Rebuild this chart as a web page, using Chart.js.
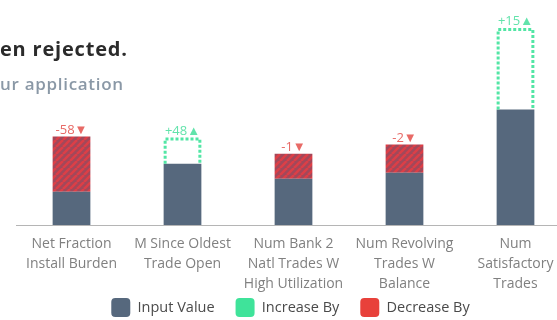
<!DOCTYPE html>
<html>
<head>
<meta charset="utf-8">
<script src="https://cdn.jsdelivr.net/npm/chart.js@4.4.0/dist/chart.umd.min.js"></script>
<style>
  html, body { margin: 0; padding: 0; background: #fff; width: 557px; height: 320px; overflow: hidden; }
  #wrap { position: absolute; left: 0; top: 0; width: 580px; height: 320px; }
  #title { position: absolute; left: 0; top: 37px; font-family: "Open Sans", sans-serif; font-weight: 700; font-size: 20px; line-height: 24px; color: #2b2b2b; white-space: nowrap; letter-spacing: 0.8px; }
  #subtitle { position: absolute; left: 0; top: 73px; font-family: "Open Sans", sans-serif; font-weight: 600; font-size: 17px; line-height: 22px; color: #8a98a6; white-space: nowrap; letter-spacing: 0.7px; }
</style>
</head>
<body>
<div id="wrap">
  <canvas id="c" width="580" height="320"></canvas>
</div>
<div id="title">en rejected.</div>
<div id="subtitle">ur application</div>
<script>
const categories = [
  ["Net Fraction", "Install Burden"],
  ["M Since Oldest", "Trade Open"],
  ["Num Bank 2", "Natl Trades W", "High Utilization"],
  ["Num Revolving", "Trades W", "Balance"],
  ["Num", "Satisfactory", "Trades"]
];
const inputValues = [16.5, 30.5, 23, 26, 57.5];
const increaseBy = [null, 13, null, null, 40.5];
const decreaseBy = [27.5, null, 12.5, 14, null];
const changeLabels = ["-58", "+48", "-1", "-2", "+15"];
const seriesNames = ["Input Value", "Increase By", "Decrease By"];
const seriesColors = ["#56687d", "#3fe39a", "#e8413b"];

const FONT = '"Open Sans", sans-serif';

function makeHatch() {
  const s = 7;
  const p = document.createElement('canvas');
  p.width = s; p.height = s;
  const g = p.getContext('2d');
  g.fillStyle = '#a2485a';
  g.fillRect(0, 0, s, s);
  g.strokeStyle = '#dc3f47';
  g.lineWidth = 2.6;
  g.beginPath();
  for (let k = -1; k <= 1; k++) {
    g.moveTo(k * s, s);
    g.lineTo(k * s + s, 0);
  }
  g.stroke();
  return g.createPattern(p, 'repeat');
}
const hatch = makeHatch();

const dottedOutline = {
  id: 'dottedOutline',
  afterDatasetsDraw(chart) {
    const ctx = chart.ctx;
    const meta = chart.getDatasetMeta(1);
    ctx.save();
    ctx.strokeStyle = '#52e6a5';
    ctx.lineWidth = 3;
    ctx.setLineDash([3, 2]);
    meta.data.forEach((bar, i) => {
      if (increaseBy[i] == null) return;
      const p = bar.getProps(['x', 'y', 'base', 'width'], true);
      const l = p.x - p.width / 2 + 1.5, r = p.x + p.width / 2 - 1.5;
      const t = p.y + 1.5, b = p.base;
      ctx.beginPath();
      ctx.moveTo(l, b); ctx.lineTo(l, t); ctx.lineTo(r, t); ctx.lineTo(r, b);
      ctx.stroke();
    });
    ctx.restore();
  }
};

const changeText = {
  id: 'changeText',
  afterDatasetsDraw(chart) {
    const ctx = chart.ctx;
    ctx.save();
    ctx.font = '13px ' + FONT;
    ctx.textAlign = 'center';
    ctx.textBaseline = 'alphabetic';
    changeLabels.forEach((lab, i) => {
      const up = increaseBy[i] != null;
      const meta = chart.getDatasetMeta(up ? 1 : 2);
      const bar = meta.data[i];
      const p = bar.getProps(['x', 'y'], true);
      ctx.fillStyle = up ? '#62e3ab' : '#e86a66';
      ctx.fillText(lab + (up ? '\u25B2' : '\u25BC'), p.x, p.y - 3);
    });
    ctx.restore();
  }
};

// tighten the legend's vertical padding while keeping horizontal spacing
const LEGEND_H = 17, LEGEND_SHIFT_Y = -26, LEGEND_SHIFT_X = -3;
const legendTighten = {
  id: 'legendTighten',
  beforeLayout(chart) {
    const lg = chart.legend;
    if (lg && !lg._tight) {
      const f = lg.fit;
      lg.fit = function () { f.call(this); this.height = LEGEND_H; };
      lg.draw = function () {
        if (!this.options.display) return;
        const c = this.ctx; c.save(); c.translate(LEGEND_SHIFT_X, LEGEND_SHIFT_Y); this._draw(); c.restore();
      };
      lg._tight = true;
    }
  }
};

new Chart(document.getElementById('c'), {
  type: 'bar',
  data: {
    labels: categories,
    datasets: [
      { label: seriesNames[0], data: inputValues, backgroundColor: seriesColors[0], stack: 's', categoryPercentage: 1, barPercentage: 0.34 },
      { label: seriesNames[1], data: increaseBy, backgroundColor: 'rgba(255,255,255,0)', stack: 's', categoryPercentage: 1, barPercentage: 0.34 },
      { label: seriesNames[2], data: decreaseBy, backgroundColor: hatch, stack: 's', categoryPercentage: 1, barPercentage: 0.34 }
    ]
  },
  options: {
    responsive: false,
    animation: false,
    layout: { padding: { left: 16, right: 9, top: 24, bottom: 0 } },
    plugins: {
      tooltip: { enabled: false },
      legend: {
        position: 'bottom',
        labels: {
          font: { family: FONT, size: 14.5 },
          color: '#4a4a4a',
          boxWidth: 19,
          boxHeight: 19,
          padding: 21,
          useBorderRadius: true,
          borderRadius: 4,
          generateLabels(chart) {
            return seriesNames.map((n, i) => ({
              text: n, fillStyle: seriesColors[i], strokeStyle: seriesColors[i], lineWidth: 0,
              hidden: false, datasetIndex: i, borderRadius: 4, fontColor: '#4a4a4a'
            }));
          }
        }
      }
    },
    scales: {
      x: {
        stacked: true,
        grid: { display: false, drawTicks: false },
        border: { display: true, color: '#b5b5b5', width: 1 },
        ticks: {
          color: '#808080',
          font: { family: FONT, size: 14, lineHeight: '20px' },
          padding: 9,
          maxRotation: 0,
          autoSkip: false
        }
      },
      y: {
        stacked: true,
        display: false,
        min: 0,
        max: 100
      }
    }
  },
  plugins: [dottedOutline, changeText, legendTighten]
});
</script>
</body>
</html>
